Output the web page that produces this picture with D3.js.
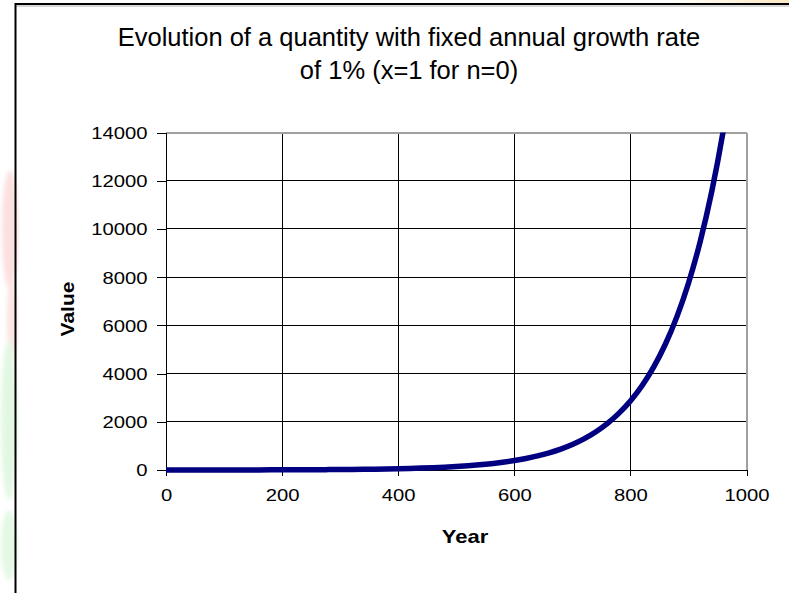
<!DOCTYPE html>
<html>
<head>
<meta charset="utf-8">
<script src="https://cdn.jsdelivr.net/npm/d3@7/dist/d3.min.js"></script>
<style>
  html, body { margin: 0; padding: 0; background: #fff; }
  svg { display: block; }
  text { font-family: "Liberation Sans", Arial, sans-serif; fill: #000; }
</style>
</head>
<body>
<script>
// ---- data ----
const years  = [0, 20, 40, 60, 80, 100, 120, 140, 160, 180, 200, 220, 240, 260, 280, 300,
                320, 340, 360, 380, 400, 420, 440, 460, 480, 500, 520, 540, 560, 580, 600,
                620, 640, 660, 680, 700, 720, 740, 760, 780, 800, 820, 840, 860, 880, 900,
                920, 940, 960, 980, 1000];
const values = [1, 1.22, 1.49, 1.82, 2.22, 2.70, 3.30, 4.03, 4.91, 6.00, 7.32, 8.93, 10.89, 13.29, 16.22, 19.79,
                24.15, 29.46, 35.95, 43.87, 53.52, 65.31, 79.69, 97.24, 118.6, 144.8, 176.7, 215.6, 263.0, 320.9, 391.6,
                477.8, 583.0, 711.4, 868.0, 1059, 1292, 1577, 1924, 2348, 2865, 3496, 4266, 5205, 6351, 7749,
                9455, 11537, 14078, 17177, 20959];
const xTicks = [0, 200, 400, 600, 800, 1000];
const yTicks = [0, 2000, 4000, 6000, 8000, 10000, 12000, 14000];
const titleLines = ["Evolution of a quantity with fixed annual growth rate", "of 1% (x=1 for n=0)"];
const xTitle = "Year";
const yTitle = "Value";

// ---- layout ----
const W = 789, H = 593;
const svg = d3.select("body").append("svg").attr("width", W).attr("height", H);

const x = d3.scaleLinear().domain([0, 1000]).range([166, 746.5]);
const y = d3.scaleLinear().domain([0, 14000]).range([470, 132.5]);

// background decorations (page behind the chart)
const defs = svg.append("defs");
const grad = defs.append("linearGradient").attr("id", "topgrad").attr("x1", "0").attr("x2", "1");
grad.append("stop").attr("offset", "0").attr("stop-color", "#ffffff");
grad.append("stop").attr("offset", "1").attr("stop-color", "#fbe8c2");
svg.append("rect").attr("x", 670).attr("y", 0).attr("width", W - 670).attr("height", 4).attr("fill", "url(#topgrad)");
defs.append("filter").attr("id", "blur").append("feGaussianBlur").attr("stdDeviation", 2);
const blobs = svg.append("g").attr("filter", "url(#blur)").attr("opacity", 0.75);
blobs.append("ellipse").attr("cx", 10).attr("cy", 230).attr("rx", 8).attr("ry", 60).attr("fill", "#fbd6d6");
blobs.append("ellipse").attr("cx", 12).attr("cy", 320).attr("rx", 5).attr("ry", 45).attr("fill", "#fadada");
blobs.append("ellipse").attr("cx", 9).attr("cy", 420).attr("rx", 8).attr("ry", 80).attr("fill", "#d9f5d9");
blobs.append("ellipse").attr("cx", 9).attr("cy", 545).attr("rx", 8).attr("ry", 35).attr("fill", "#dcf6dc");

// chart frame
svg.append("line").attr("x1", 15).attr("x2", W).attr("y1", 6).attr("y2", 6).attr("stroke", "#b0b0b0").attr("stroke-width", 1);
svg.append("rect").attr("x", 15.5).attr("y", 4).attr("width", W + 20).attr("height", H + 20)
  .attr("fill", "none").attr("stroke", "#000").attr("stroke-width", 2);

// title
const title = svg.append("text").attr("text-anchor", "middle").style("font-size", "25.5px");
titleLines.forEach((t, i) => {
  title.append("tspan").attr("x", 409).attr("y", 46 + i * 33).text(t);
});

// gridlines
const grid = svg.append("g").attr("shape-rendering", "crispEdges");
grid.selectAll("line.h").data(yTicks.filter(d => d > 0 && d < 14000)).join("line")
  .attr("x1", x(0)).attr("x2", x(1000)).attr("y1", d => y(d)).attr("y2", d => y(d))
  .attr("stroke", "#000").attr("stroke-width", 1);
grid.selectAll("line.v").data(xTicks.filter(d => d > 0 && d < 1000)).join("line")
  .attr("x1", d => x(d)).attr("x2", d => x(d)).attr("y1", y(14000)).attr("y2", y(0))
  .attr("stroke", "#000").attr("stroke-width", 1);
// plot area border (top/right gray)
grid.append("line").attr("x1", x(0)).attr("x2", x(1000)).attr("y1", y(14000)).attr("y2", y(14000))
  .attr("stroke", "#a0a0a0").attr("stroke-width", 2);
grid.append("line").attr("x1", x(1000)).attr("x2", x(1000)).attr("y1", y(14000)).attr("y2", y(0))
  .attr("stroke", "#a0a0a0").attr("stroke-width", 2);

// axes
const xAxis = svg.append("g").attr("transform", `translate(0,${y(0)})`)
  .call(d3.axisBottom(x).tickValues(xTicks).tickSize(6).tickSizeOuter(0).tickPadding(4).tickFormat(d3.format("d")));
const yAxis = svg.append("g").attr("transform", `translate(${x(0)},0)`)
  .call(d3.axisLeft(y).tickValues(yTicks).tickSize(9).tickSizeOuter(0).tickPadding(0).tickFormat(d3.format("d")));
[xAxis, yAxis].forEach(a => {
  a.attr("shape-rendering", "crispEdges");
  a.selectAll("path.domain").attr("stroke", "#000").attr("stroke-width", 1);
  a.selectAll(".tick line").attr("stroke", "#000").attr("stroke-width", 1);
  a.selectAll("text").style("font-size", "17px").style("font-family", "'Liberation Sans', Arial, sans-serif").attr("fill", "#111");
});
xAxis.selectAll("text").attr("y", 0).attr("dy", 0).attr("transform", "translate(0,31) scale(1.19,1)");
yAxis.selectAll("text").attr("x", 0).attr("dy", "0.35em").attr("transform", "translate(-18.5,0) scale(1.19,1)");

// line
defs.append("clipPath").attr("id", "plotclip").append("rect")
  .attr("x", x(0) - 5).attr("y", y(14000)).attr("width", x(1000) - x(0) + 10).attr("height", y(0) - y(14000) + 5);
const pts = years.map((yr, i) => [yr, values[i]]);
svg.append("path").datum(pts)
  .attr("clip-path", "url(#plotclip)")
  .attr("fill", "none").attr("stroke", "#000080").attr("stroke-width", 5.5)
  .attr("stroke-linejoin", "round")
  .attr("d", d3.line().x(d => x(d[0])).y(d => y(d[1])).curve(d3.curveMonotoneX));

// axis titles
svg.append("text").attr("text-anchor", "middle")
  .attr("transform", "translate(465,543) scale(1.22,1)")
  .style("font-size", "18px").style("font-weight", "bold").text(xTitle);
svg.append("text").attr("text-anchor", "middle")
  .attr("transform", "translate(74,309) rotate(-90) scale(1.2,1)")
  .style("font-size", "17.5px").style("font-weight", "bold").text(yTitle);
</script>
</body>
</html>
